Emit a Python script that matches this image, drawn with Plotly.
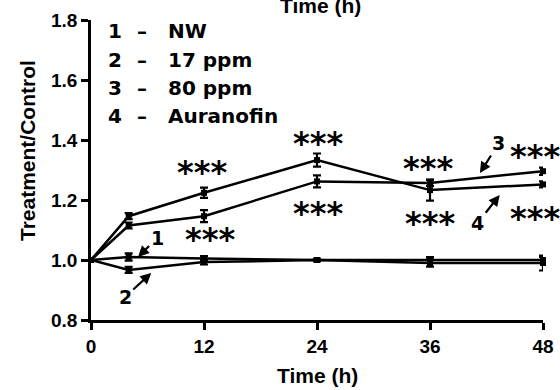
import plotly.graph_objects as go

# ---- data ----
times = [0, 4, 12, 24, 36, 48]
nw = [1.0, 1.01, 1.005, 1.0, 1.0, 1.0]
nw_err = [0, 0.012, 0.008, 0.004, 0.01, 0.01]
ppm17 = [1.0, 0.967, 0.993, 1.0, 0.99, 0.99]
ppm17_err = [0, 0.01, 0.008, 0.004, 0.012, 0.025]
ppm80 = [1.0, 1.115, 1.146, 1.262, 1.257, 1.296]
ppm80_err = [0, 0.01, 0.02, 0.02, 0.01, 0.012]
aura = [1.0, 1.146, 1.224, 1.333, 1.233, 1.252]
aura_err = [0, 0.01, 0.017, 0.022, 0.035, 0.01]

legend_nums = ["1", "2", "3", "4"]
legend_names = ["NW", "17 ppm", "80 ppm", "Auranofin"]
x_ticks = [0, 12, 24, 36, 48]
y_ticks = [0.8, 1.0, 1.2, 1.4, 1.6, 1.8]

ARIAL = "Liberation Sans, Arial, sans-serif"
DEJAVU = "DejaVu Sans, sans-serif"

fig = go.Figure()
for vals, errs in [(nw, nw_err), (ppm17, ppm17_err), (ppm80, ppm80_err), (aura, aura_err)]:
    fig.add_trace(go.Scatter(
        x=times, y=vals, mode="lines+markers",
        line=dict(color="black", width=2.5),
        marker=dict(symbol="square", size=6, color="black"),
        error_y=dict(type="data", array=errs, visible=True, color="black", thickness=2.2, width=4),
        cliponaxis=False, showlegend=False, hoverinfo="skip",
    ))

annotations = []
# legend as text rows
row_y = [1.0 + (260 - 31) / 300, 1.0 + (260 - 60) / 300, 1.0 + (260 - 88) / 300, 1.0 + (260 - 116) / 300]
for num, name, yy in zip(legend_nums, legend_names, row_y):
    f = dict(family=DEJAVU, size=20, color="black", weight="bold")
    annotations.append(dict(x=(115 - 91) / 452, y=yy, xref="paper", yref="y", text=num, showarrow=False,
                            font=f, xanchor="center", yanchor="middle"))
    annotations.append(dict(x=(142 - 91) / 452, y=yy, xref="paper", yref="y", text="–", showarrow=False,
                            font=f, xanchor="center", yanchor="middle"))
    annotations.append(dict(x=(166 - 91) / 452, y=yy, xref="paper", yref="y", text=name, showarrow=False,
                            font=f, xanchor="left", yanchor="middle"))

# significance stars
star_pos = [(11.8, 1.30), (12.6, 1.077), (24.1, 1.397), (24.1, 1.163),
            (35.8, 1.313), (36.0, 1.13), (47.1, 1.353), (47.1, 1.147)]
for sx, sy in star_pos:
    annotations.append(dict(x=sx, y=sy, xref="x", yref="y", text="***", showarrow=False,
                            font=dict(family=DEJAVU, size=32, color="black", weight="bold"),
                            xanchor="center", yanchor="middle", yshift=-2))

# numbered arrows: (label, head_x, head_y, ax, ay)
arrows = [("1", 5.0, 1.01, 19, -19), ("2", 6.4, 0.957, -26, 24),
          ("3", 41.3, 1.29, 19, -30), ("4", 43.4, 1.217, -22, 28)]
for lab, hx, hy, ax, ay in arrows:
    annotations.append(dict(x=hx, y=hy, xref="x", yref="y", text=lab, showarrow=True,
                            arrowhead=2, arrowsize=1, arrowwidth=2.2, arrowcolor="black",
                            ax=ax, ay=ay, standoff=0,
                            font=dict(family=DEJAVU, size=19, color="black", weight="bold")))

# y title
annotations.append(dict(x=(27 - 91) / 452, y=(320 - 151) / 300, xref="paper", yref="paper",
                        text="Treatment/Control", showarrow=False, textangle=-90,
                        font=dict(family=ARIAL, size=21, color="black", weight="bold"),
                        xanchor="center", yanchor="middle"))
# x title
annotations.append(dict(x=0.5, y=(320 - 375) / 300, xref="paper", yref="paper",
                        text="Time (h)", showarrow=False,
                        font=dict(family=ARIAL, size=21, color="black", weight="bold"),
                        xanchor="center", yanchor="middle"))
# clipped top title
annotations.append(dict(x=(320 - 91) / 452, y=1 + (20 - 19) / 300, xref="paper", yref="paper",
                        text="Time (h)", showarrow=False,
                        font=dict(family=ARIAL, size=21, color="black", weight="bold"),
                        xanchor="center", yanchor="bottom"))

axis_common = dict(showline=True, linecolor="black", linewidth=2.5, ticks="outside", ticklen=7,
                   tickwidth=2.5, tickcolor="black", showgrid=False, zeroline=False, automargin=False,
                   tickfont=dict(family=ARIAL, size=19, color="black", weight="bold"))

fig.update_layout(
    width=560, height=390,
    margin=dict(l=91, r=17, t=20, b=70),
    paper_bgcolor="white", plot_bgcolor="white",
    xaxis=dict(range=[0, 48], tickvals=x_ticks, **axis_common),
    yaxis=dict(range=[0.8, 1.8], tickvals=y_ticks, tickformat=".1f", **axis_common),
    annotations=annotations,
)

fig.write_html("out.html", config={"displayModeBar": False},
               post_script="document.body.style.margin='0';document.body.style.overflow='hidden';")
